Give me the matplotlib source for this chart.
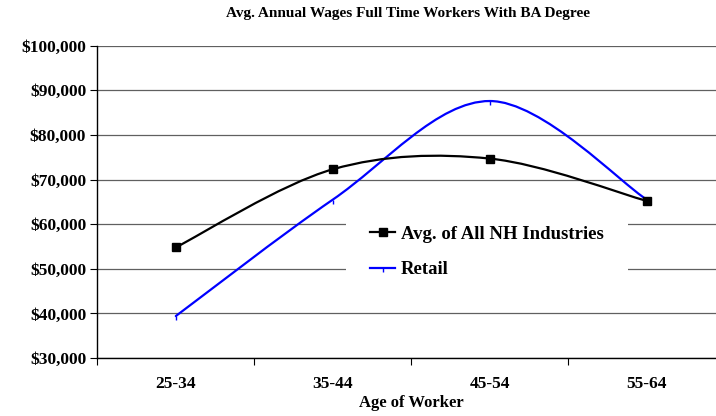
import numpy as np
import matplotlib
matplotlib.use("Agg")
import matplotlib.pyplot as plt
from matplotlib.path import Path
from matplotlib.patches import PathPatch
from matplotlib.lines import Line2D

# ---- data ----
categories = ["25-34", "35-44", "45-54", "55-64"]
all_nh = [54800, 72300, 74700, 65200]
retail = [39400, 65500, 87600, 65500]
y_ticks = [30000, 40000, 50000, 60000, 70000, 80000, 90000, 100000]
title = "Avg. Annual Wages Full Time Workers With BA Degree"
xlabel = "Age of Worker"
series_names = ["Avg. of All NH Industries", "Retail"]

plt.rcParams['font.family'] = ['Liberation Serif', 'DejaVu Serif']
plt.rcParams['font.weight'] = 'bold'

fig = plt.figure(figsize=(7.16, 4.16), dpi=100)
ax = fig.add_axes([97.3/716, 58/416, 628/716, 312.3/416])

xs = np.arange(len(categories)) + 0.5


def smooth_path(x, y):
    """Excel-style smoothed line as cubic Bezier (Catmull-Rom tangents)."""
    x = np.asarray(x, float); y = np.asarray(y, float)
    n = len(x)
    verts = [(x[0], y[0])]
    codes = [Path.MOVETO]
    def tan(i):
        a = max(i - 1, 0); b = min(i + 1, n - 1)
        return ((x[b] - x[a]) / 2.0, (y[b] - y[a]) / 2.0)
    for i in range(n - 1):
        t0 = tan(i); t1 = tan(i + 1)
        c1 = (x[i] + t0[0] / 3, y[i] + t0[1] / 3)
        c2 = (x[i + 1] - t1[0] / 3, y[i + 1] - t1[1] / 3)
        verts += [c1, c2, (x[i + 1], y[i + 1])]
        codes += [Path.CURVE4] * 3
    return Path(verts, codes)

ax.add_patch(PathPatch(smooth_path(xs, retail), fill=False, edgecolor='#0000FF',
                       lw=1.6, zorder=3, capstyle='round', joinstyle='round'))
ax.plot(xs, retail, linestyle='none', marker=3, markersize=3, color='#0000FF',
        markeredgewidth=1, zorder=4)
ax.add_patch(PathPatch(smooth_path(xs, all_nh), fill=False, edgecolor='black',
                       lw=1.6, zorder=3, capstyle='round', joinstyle='round'))
ax.plot(xs, all_nh, linestyle='none', marker='s', markersize=5.5, color='black',
        zorder=4)

ax.set_xlim(0, len(categories))
ax.set_ylim(y_ticks[0], y_ticks[-1])
ax.set_yticks(y_ticks)
ax.set_yticklabels([f"${v:,}" for v in y_ticks], fontsize=12.5, fontweight='bold')
ax.set_xticks(np.arange(len(categories) + 1))
ax.set_xticklabels([])
ax.set_xticks(xs, minor=True)
ax.set_xticklabels(categories, minor=True, fontsize=12.5, fontweight='bold')
ax.tick_params(axis='x', which='minor', length=0, pad=13)
ax.tick_params(axis='x', which='major', length=5, width=0.8, direction='out')
ax.tick_params(axis='y', length=5, width=0.8, direction='out', pad=3)

ax.grid(axis='y', color='#606060', lw=0.9)
ax.set_axisbelow(True)
for s in ['top', 'right']:
    ax.spines[s].set_visible(False)
for s in ['left', 'bottom']:
    ax.spines[s].set_linewidth(1.0)
    ax.spines[s].set_color('black')

ax.set_xlabel(xlabel, fontsize=12, fontweight='bold', labelpad=2)
fig.text(0.57, 1 - 14/416, title, ha='center', va='center', fontsize=11,
         fontweight='bold')

handles = [Line2D([], [], color='black', lw=1.6, marker='s', markersize=5.5),
           Line2D([], [], color='#0000FF', lw=1.6, marker=3, markersize=3)]
leg = ax.legend(handles, series_names, loc='center',
                bbox_to_anchor=(487/716, 1 - 252/416), bbox_transform=fig.transFigure,
                prop={'size': 13.5, 'weight': 'bold'}, frameon=True, fancybox=False,
                edgecolor='none', facecolor='white', framealpha=1,
                borderpad=1.3, labelspacing=1.0, handlelength=1.35,
                handletextpad=0.3)

fig.savefig("out.png", dpi=100)
